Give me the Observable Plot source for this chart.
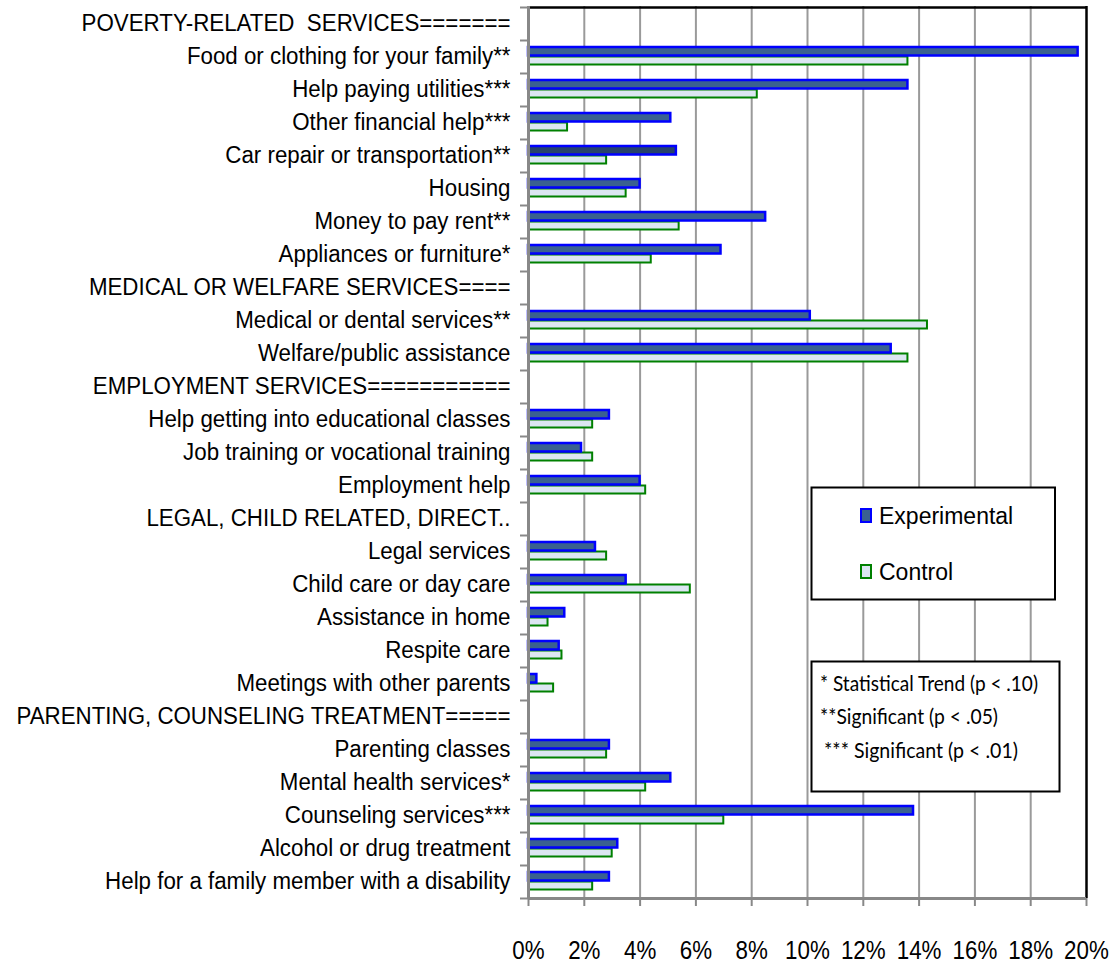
<!DOCTYPE html>
<html>
<head>
<meta charset="utf-8">
<script src="https://cdn.jsdelivr.net/npm/d3@7"></script>
<script src="https://cdn.jsdelivr.net/npm/@observablehq/plot@0.6"></script>
<style>
  html, body { margin: 0; padding: 0; background: #fff; }
  #chart { width: 1115px; height: 967px; }
</style>
</head>
<body>
<div id="chart"></div>
<script>
// ---- data ----
const categories = [
  "POVERTY-RELATED  SERVICES=======",
  "Food or clothing for your family**",
  "Help paying utilities***",
  "Other financial help***",
  "Car repair or transportation**",
  "Housing",
  "Money to pay rent**",
  "Appliances or furniture*",
  "MEDICAL OR WELFARE SERVICES====",
  "Medical or dental services**",
  "Welfare/public assistance",
  "EMPLOYMENT SERVICES===========",
  "Help getting into educational classes",
  "Job training or vocational training",
  "Employment help",
  "LEGAL, CHILD RELATED, DIRECT..",
  "Legal services",
  "Child care or day care",
  "Assistance in home",
  "Respite care",
  "Meetings with other parents",
  "PARENTING, COUNSELING TREATMENT=====",
  "Parenting classes",
  "Mental health services*",
  "Counseling services***",
  "Alcohol or drug treatment",
  "Help for a family member with a disability"
];
const experimental = [null, 19.7, 13.6, 5.1, 5.3, 4.0, 8.5, 6.9, null, 10.1, 13.0, null, 2.9, 1.9, 4.0, null, 2.4, 3.5, 1.3, 1.1, 0.3, null, 2.9, 5.1, 13.8, 3.2, 2.9];
const control      = [null, 13.6, 8.2, 1.4, 2.8, 3.5, 5.4, 4.4, null, 14.3, 13.6, null, 2.3, 2.3, 4.2, null, 2.8, 5.8, 0.7, 1.2, 0.9, null, 2.8, 4.2, 7.0, 3.0, 2.3];
const xTicks = [0, 2, 4, 6, 8, 10, 12, 14, 16, 18, 20];
const seriesNames = ["Experimental", "Control"];
const significanceNotes = ["* Statistical Trend (p < .10)", "**Significant (p < .05)", " *** Significant (p < .01)"];

// ---- build ----
const rows = categories.map((c, i) => ({category: c, experimental: experimental[i], control: control[i]}));
const expRows = rows.filter(d => d.experimental != null);
const ctlRows = rows.filter(d => d.control != null);

const EXP_FILL = "#3a6190", EXP_DARK = "#27426a", EXP_STROKE = "#0000ff";
const CTL_FILL = "#dce6f2", CTL_STROKE = "#008000";
const GRID = "#9a9a9a";
const TICK_LEN = 8 / 27.9; // left boundary tick length in x units (~8px)

const plot = Plot.plot({
  width: 1115,
  height: 967,
  marginLeft: 528,
  marginRight: 29,
  marginTop: 6,
  marginBottom: 69,
  style: {fontFamily: "'Liberation Sans', Arial, sans-serif", fontSize: "23px", background: "#fff", color: "#000", overflow: "visible"},
  x: {domain: [0, 20], ticks: xTicks, tickSize: 8, tickPadding: 34, tickFormat: d => d + "%", label: null},
  y: {domain: categories, padding: 0, tickSize: 0, tickPadding: 18, label: null},
  color: {type: "identity"},
  marks: [
    Plot.ruleX(xTicks.slice(1, -1), {stroke: GRID, strokeWidth: 2}),
    Plot.barX(ctlRows, {x: "control", y: "category", fill: CTL_FILL, stroke: CTL_STROKE, strokeWidth: 2, insetTop: 16.5, insetBottom: 8.5}),
    Plot.barX(expRows, {x: "experimental", y: "category",
      fill: d => d.category.startsWith("Car repair") ? EXP_DARK : EXP_FILL,
      stroke: EXP_STROKE, strokeWidth: 2.5, insetTop: 7, insetBottom: 17.5}),
    // frame: top & right black, left & bottom gray
    Plot.ruleX([20], {stroke: "#000", strokeWidth: 2.5}),
    Plot.ruleY([categories[0]], {stroke: "#000", strokeWidth: 2.5, dy: -16.5}),
    Plot.ruleX([0], {stroke: "#888", strokeWidth: 3}),
    Plot.ruleY([categories[categories.length - 1]], {stroke: "#888", strokeWidth: 3, dy: 16.5}),
    // left ticks at band boundaries
    Plot.ruleY(categories, {x1: -TICK_LEN, x2: 0, stroke: "#888", strokeWidth: 2, dy: -16.5}),
    Plot.ruleY([categories[categories.length - 1]], {x1: -TICK_LEN, x2: 0, stroke: "#888", strokeWidth: 2, dy: 16.5})
  ]
});

document.getElementById("chart").append(plot);

// style axes
plot.querySelectorAll('g[aria-label^="x-axis"]').forEach(g => {
  g.setAttribute("font-size", 26);
  g.style.fontSize = "26px";
  g.querySelectorAll("line, path").forEach(l => { l.setAttribute("stroke", "#888"); l.setAttribute("stroke-width", 2); });
});

// condense text widths slightly to mimic the original rendering
function squeeze(sel, factor) {
  plot.querySelectorAll(sel).forEach(t => {
    const w = t.getComputedTextLength();
    t.setAttribute("textLength", (w * factor).toFixed(1));
    t.setAttribute("lengthAdjust", "spacingAndGlyphs");
  });
}
squeeze('g[aria-label^="y-axis"] text', 0.97);
squeeze('g[aria-label^="x-axis"] text', 0.86);

// ---- legends ----
const svg = d3.select(plot);
const lg = svg.append("g").attr("font-family", "'Liberation Sans', Arial, sans-serif")
  .attr("text-anchor", "start").style("text-anchor", "start");
lg.append("rect").attr("x", 811.5).attr("y", 487.5).attr("width", 243.5).attr("height", 112)
  .attr("fill", "#fff").attr("stroke", "#000").attr("stroke-width", 2);
const swatches = [
  {name: seriesNames[0], fill: EXP_FILL, stroke: EXP_STROKE, cy: 516},
  {name: seriesNames[1], fill: CTL_FILL, stroke: CTL_STROKE, cy: 572}
];
swatches.forEach(s => {
  lg.append("rect").attr("x", 861).attr("y", s.cy - 7).attr("width", 10).attr("height", 13)
    .attr("fill", s.fill).attr("stroke", s.stroke).attr("stroke-width", 2);
  lg.append("text").attr("x", 879).attr("y", s.cy).attr("dy", "0.36em")
    .attr("text-anchor", "start").style("font-size", "23px").attr("fill", "#000").text(s.name);
});

const ng = svg.append("g").attr("font-family", "Lato, 'Open Sans', sans-serif")
  .attr("text-anchor", "start").style("text-anchor", "start");
ng.append("rect").attr("x", 811.5).attr("y", 661.5).attr("width", 248).attr("height", 130)
  .attr("fill", "#fff").attr("stroke", "#000").attr("stroke-width", 2);
const noteX = [820, 820, 824];
const noteY = [683, 716.5, 750];
const noteW = [218, 178, 194];
significanceNotes.forEach((n, i) => {
  ng.append("text").attr("x", noteX[i]).attr("y", noteY[i]).attr("dy", "0.35em")
    .attr("text-anchor", "start").style("font-size", "22px").attr("fill", "#000")
    .attr("textLength", noteW[i]).attr("lengthAdjust", "spacingAndGlyphs")
    .text(n.trim());
});
</script>
</body>
</html>
